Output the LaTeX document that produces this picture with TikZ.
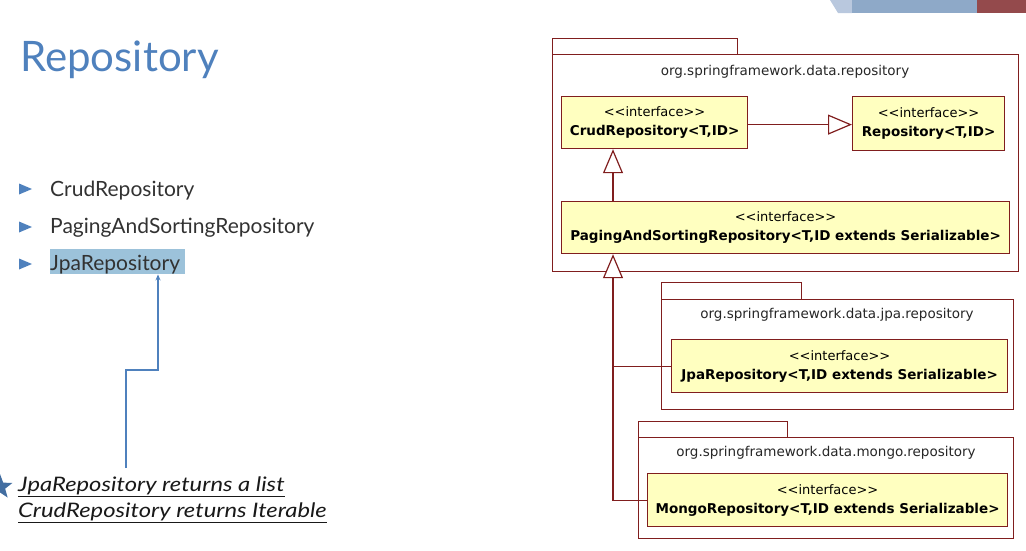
\documentclass[tikz,border=0pt]{standalone}
\usepackage{fontspec}
\setmainfont{Lato}
\newfontfamily\umlfont{DejaVu Sans}
\newfontfamily\notefont{Lato}[FakeStretch=1.19]
\usepackage{xcolor}
\usetikzlibrary{arrows.meta,shapes.geometric}
\definecolor{umlred}{RGB}{128,30,30}
\definecolor{umlyellow}{RGB}{255,255,192}
\definecolor{titleblue}{RGB}{79,129,189}
\definecolor{hlblue}{RGB}{156,194,218}
\definecolor{bodygray}{RGB}{50,50,50}
\definecolor{bandblue}{RGB}{142,169,200}
\definecolor{bandlight}{RGB}{185,200,222}
\definecolor{bandred}{RGB}{148,74,76}
\newcommand{\stereotype}{{\fontsize{13}{19}\selectfont <{}<interface>{}>}}

\begin{document}
\begin{tikzpicture}[x=1pt,y=-1pt,
  iface/.style={draw=umlred, fill=umlyellow, line width=1.2pt, anchor=north west, align=center, inner sep=0pt, font=\umlfont\fontsize{13.5}{19}\selectfont},
  pkgbox/.style={draw=umlred, line width=1.2pt, anchor=north west, inner sep=0pt},
  pkglabel/.style={font=\umlfont\fontsize{13.5}{16}\selectfont, text=black!85},
  generalize/.style={draw=umlred, line width=1.2pt, -{Triangle[open, length=24pt, width=20pt, fill=white]}},
  umlline/.style={draw=umlred, line width=1.2pt},
  bullettext/.style={anchor=base west, text=bodygray, font=\fontsize{21}{24}\selectfont},
  notetext/.style={anchor=base west, text=black!90, font=\notefont\itshape\fontsize{20}{24}\selectfont},
]
\useasboundingbox (0,0) rectangle (1026,550);

% Corner band
\fill[bandlight] (830,0) -- (852,0) -- (852,13) -- (838,13) -- cycle;
\fill[bandblue] (852,0) rectangle (977,13);
\fill[bandred] (977,0) rectangle (1026,13);

% Title
\node[anchor=base west, text=titleblue, font=\fontsize{42}{48}\selectfont, inner sep=0pt] (title) at (20,71) {Repository};

% Bullets
\node[fill=hlblue, anchor=north west, minimum width=135pt, minimum height=25pt, inner sep=0pt] (hl) at (50,249) {};
\foreach \y/\yb/\name/\txt in {189/196/itemcrud/CrudRepository, 227/233/itempaging/PagingAndSortingRepository, 264/270/itemjpa/JpaRepository} {
  \fill[titleblue] (19,\y-5.5) -- (32,\y) -- (19,\y+5.5) -- cycle;
  \node[bullettext, inner sep=0pt] (\name) at (50,\yb) {\txt};
}

% Note
\node[star, star points=5, star point ratio=2.4, fill=titleblue!85!black, minimum size=26pt, inner sep=0pt] (starmark) at (0,487) {};
\node[notetext, inner sep=0pt] (noteA) at (18,491) {\underline{JpaRepository returns a list}};
\node[notetext, inner sep=0pt] (noteB) at (18,517) {\underline{CrudRepository returns Iterable}};
\coordinate (stem) at (126,468);
\coordinate (knee) at (158,370);
\draw[titleblue, line width=1.1pt, -{Stealth[length=6pt, width=5pt]}] (stem) |- (knee) -- (knee |- hl.south);

% Packages
\node[pkgbox, minimum width=185pt, minimum height=16pt] (tabrepo) at (552,38) {};
\node[pkgbox, minimum width=466pt, minimum height=217pt] (pkgrepo) at (552,54) {};
\node[pkglabel] (lblrepo) at (785,72) {org.springframework.data.repository};

\node[pkgbox, minimum width=140pt, minimum height=17pt] (tabjpa) at (661,282) {};
\node[pkgbox, minimum width=352pt, minimum height=110pt] (pkgjpa) at (661,299) {};
\node[pkglabel] (lbljpa) at (837,315) {org.springframework.data.jpa.repository};

\node[pkgbox, minimum width=149pt, minimum height=16pt] (tabmongo) at (638,421) {};
\node[pkgbox, minimum width=375pt, minimum height=101pt] (pkgmongo) at (638,437) {};
\node[pkglabel] (lblmongo) at (826,453) {org.springframework.data.mongo.repository};

% Interfaces
\node[iface, minimum width=186pt, minimum height=52pt] (crud) at (561,96) {\stereotype\\\textbf{CrudRepository<T,ID>}};
\node[iface, minimum width=152pt, minimum height=54pt] (repo) at (852,96) {\stereotype\\\textbf{Repository<T,ID>}};
\node[iface, minimum width=448pt, minimum height=52pt] (paging) at (561,201) {\stereotype\\\textbf{PagingAndSortingRepository<T,ID extends Serializable>}};
\node[iface, minimum width=336pt, minimum height=53pt] (jpa) at (671,339) {\stereotype\\\textbf{JpaRepository<T,ID extends Serializable>}};
\node[iface, minimum width=360pt, minimum height=53pt] (mongo) at (647,473) {\stereotype\\\textbf{MongoRepository<T,ID extends Serializable>}};

% Generalizations
\coordinate (trunk) at (613,300);
\draw[generalize] ([yshift=-2pt]crud.east) -- ([yshift=-2pt]crud.east -| repo.west);
\draw[generalize] (paging.north -| trunk) -- (crud.south -| trunk);
\draw[umlline] (jpa.west) -- (jpa.west -| trunk);
\draw[generalize] (mongo.west) -| (paging.south -| trunk);

\end{tikzpicture}
\end{document}
